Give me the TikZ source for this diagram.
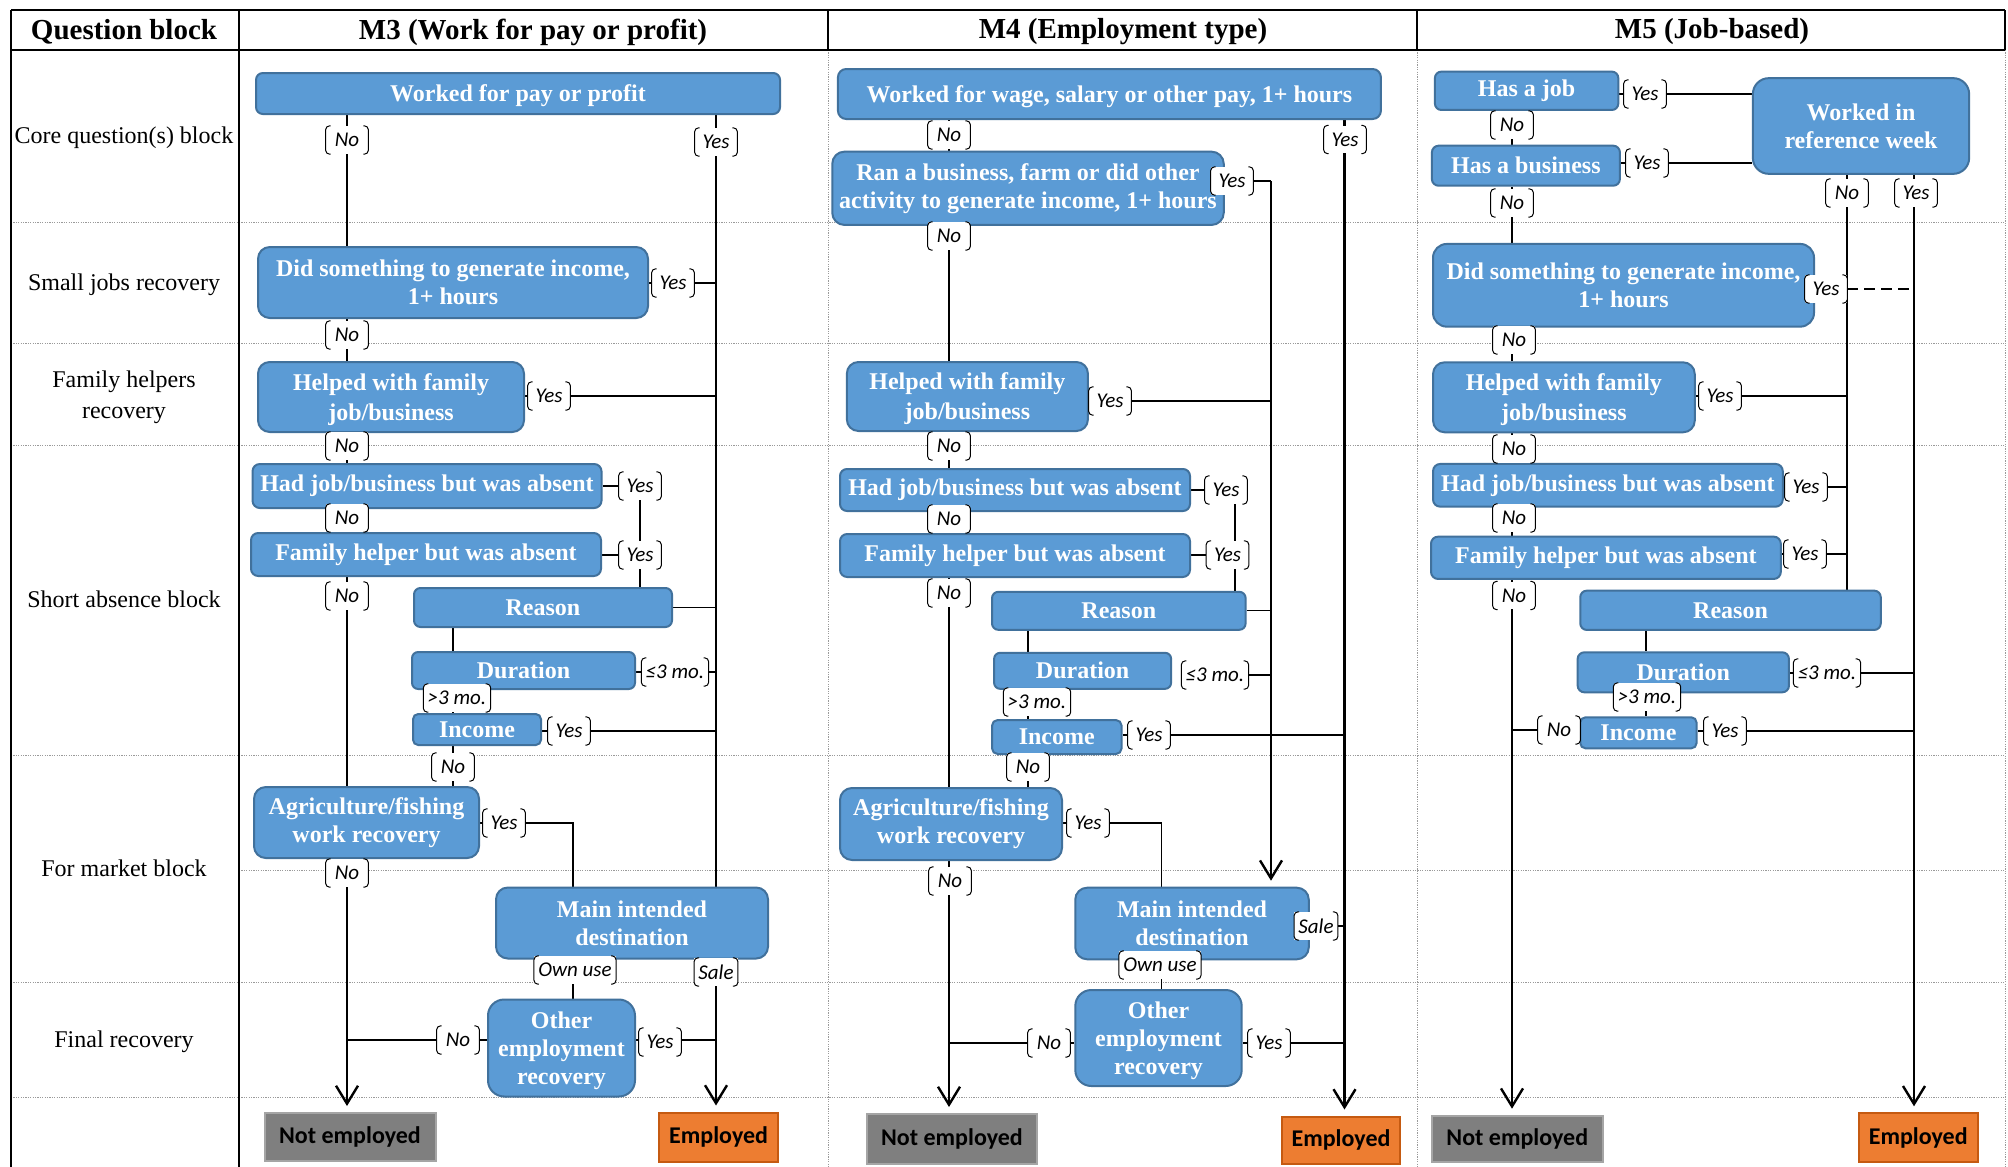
\documentclass[tikz,border=0pt]{standalone}
\usepackage{fontspec}
\setmainfont{Liberation Serif}
\newfontfamily\calfont{Carlito}
\usetikzlibrary{arrows.meta}
\definecolor{boxfill}{HTML}{5B9BD5}
\definecolor{boxedge}{HTML}{41719C}
\definecolor{negray}{HTML}{7F7F7F}
\definecolor{needge}{HTML}{A5A5A5}
\definecolor{emfill}{HTML}{ED7D31}
\definecolor{emedge}{HTML}{C55A11}
\definecolor{gridc}{HTML}{9A9A9A}
\pgfdeclarelayer{bg}
\pgfdeclarelayer{grid}
\pgfdeclarelayer{lines}
\pgfsetlayers{bg,grid,lines,main}
\tikzset{
  qb/.style={draw=boxedge, fill=boxfill, line width=1pt, text=white,
    font=\bfseries\fontsize{12}{14}\selectfont, align=center, inner sep=0pt},
  lowt/.style={text depth=0pt},
  wide/.style={font=\bfseries\fontsize{12}{15}\selectfont, text depth=0pt},
  lab/.style={fill=white, font=\calfont\itshape\fontsize{10.5}{12}\selectfont,
    inner xsep=2pt, inner ysep=0pt, minimum width=21pt, minimum height=13.8pt},
  brk/.style={line width=0.5pt, rounded corners=2pt},
  thk/.style={line width=1.2pt},
  thn/.style={line width=0.65pt},
  arr/.style={-{Straight Barb[length=9pt,width=11pt]}, shorten >=3pt},
  term/.style={font=\calfont\bfseries\fontsize{12}{14}\selectfont, text=black,
    inner sep=0pt, line width=1pt},
  rowl/.style={font=\fontsize{12}{15.5}\selectfont, align=center, inner sep=0pt},
  hdr/.style={font=\bfseries\fontsize{14.5}{16}\selectfont, inner sep=0pt},
  gridln/.style={gridc, line width=0.5pt, dash pattern=on 0.6pt off 0.6pt},
  border/.style={black, line width=1pt}
}
\newcommand\qbox[7][]{%
  \pgfmathsetmacro\qbW{#5*0.5}%
  \pgfmathsetmacro\qbH{#6*0.5}%
  \pgfmathsetmacro\qbR{min(#5,#6)/12}%
  \node[qb,minimum width=\qbW pt,minimum height=\qbH pt,rounded corners=\qbR pt,#1] (#2) at (#3,#4) {#7};}
\newcommand\yn[4][]{%
  \node[lab,#1] (#2) at (#3) {#4};
  \draw[brk] ([xshift=2.5pt]#2.north west) -- (#2.north west) -- (#2.south west) -- ([xshift=2.5pt]#2.south west);
  \draw[brk] ([xshift=-2.5pt]#2.north east) -- (#2.north east) -- (#2.south east) -- ([xshift=-2.5pt]#2.south east);}
\newcommand\tbox[7]{% name, cx, cy, w, h, style, text
  \pgfmathsetmacro\qbW{#4*0.5}%
  \pgfmathsetmacro\qbH{#5*0.5}%
  \node[term,#6,minimum width=\qbW pt,minimum height=\qbH pt] (#1) at (#2,#3) {#7};}
\begin{document}
\begin{tikzpicture}[x=0.5pt,y=-0.5pt]
\useasboundingbox (0,0) rectangle (2008,1167);
\begin{pgfonlayer}{bg}
\fill[white] (0,0) rectangle (2008,1167);
\end{pgfonlayer}

% ---------------- table grid ----------------
\begin{pgfonlayer}{grid}
\foreach \yy in {222,343,445,755,982,1097} \draw[gridln] (11,\yy) -- (2005,\yy);
\draw[gridln] (239,870) -- (2005,870);
\foreach \xx in {828,1417,2005} \draw[gridln] (\xx,50) -- (\xx,1167);
\draw[border] (11,10) -- (2005,10);
\draw[border] (11,50) -- (2005,50);
\draw[border] (11,10) -- (11,1167);
\draw[border] (239,10) -- (239,1167);
\foreach \xx in {828,1417,2005} \draw[border] (\xx,10) -- (\xx,50);
\end{pgfonlayer}

% ---------------- headers and row labels ----------------
\node[hdr] (hq) at (124,32) {Question block};
\node[hdr] (hm3) at (533,32) {M3 (Work for pay or profit)};
\node[hdr] (hm4) at (1123,32) {M4 (Employment type)};
\node[hdr] (hm5) at (1712,32) {M5 (Job-based)};
\node[rowl] (r1) at (124,138) {Core question(s) block};
\node[rowl] (r2) at (124,285) {Small jobs recovery};
\node[rowl] (r3) at (124,397) {Family helpers\\recovery};
\node[rowl] (r4) at (124,599) {Short absence block};
\node[rowl] (r5) at (124,868) {For market block};
\node[rowl] (r6) at (124,1042) {Final recovery};

% ---------------- M3 boxes ----------------
\qbox[lowt]{W3}{518}{93.5}{524}{41}{Worked for pay or profit}
\qbox{D3}{453}{282.5}{390}{71}{Did something to generate income,\\1+ hours}
\qbox[wide]{H3}{391}{397}{266}{70}{Helped with family\\job/business}
\qbox{HJ3}{427}{486}{349}{44}{Had job/business but was absent}
\qbox{FH3}{426}{554.5}{350}{43}{Family helper but was absent}
\qbox{R3}{543}{607.5}{258}{39}{Reason}
\qbox{DU3}{523.5}{670.5}{223}{37}{Duration}
\qbox{IN3}{477}{729.5}{128}{31}{Income}
\qbox{AG3}{366.5}{822.5}{225}{71}{Agriculture/fishing\\work recovery}
\qbox{MI3}{632}{923}{272}{71}{Main intended\\destination}
\qbox[lowt]{OE3}{561.5}{1048}{147}{97}{Other\\employment\\recovery}
\tbox{NE3}{350}{1137}{171}{48}{fill=negray,draw=needge}{Not employed}
\tbox{EM3}{718.6}{1137}{119}{49}{fill=emfill,draw=emedge}{Employed}

% ---------------- M4 boxes ----------------
\qbox[lowt]{W4}{1109.4}{94}{543}{50}{Worked for wage, salary or other pay, 1+ hours}
\qbox{RB4}{1028}{188.3}{391.5}{73.3}{Ran a business, farm or did other\\activity to generate income, 1+ hours}
\qbox[wide]{H4}{967.4}{396.5}{241}{69}{Helped with family\\job/business}
\qbox{HJ4}{1015}{490}{350}{42}{Had job/business but was absent}
\qbox{FH4}{1015}{555.5}{350}{43}{Family helper but was absent}
\qbox{R4}{1118.8}{610.8}{253.6}{38}{Reason}
\qbox{DU4}{1082.6}{670.8}{177}{36}{Duration}
\qbox{IN4}{1056.8}{737}{129.6}{34}{Income}
\qbox{AG4}{951}{824}{222}{72}{Agriculture/fishing\\work recovery}
\qbox{MI4}{1192}{923.5}{233.5}{71.6}{Main intended\\destination}
\qbox[lowt]{OE4}{1158.5}{1038}{166.4}{96}{Other\\employment\\recovery}
\tbox{NE4}{952}{1139}{170}{50}{fill=negray,draw=needge}{Not employed}
\tbox{EM4}{1341}{1140}{118}{47}{fill=emfill,draw=emedge}{Employed}

% ---------------- M5 boxes ----------------
\qbox{HJ5}{1526.6}{90.8}{183.4}{38.3}{Has a job}
\qbox{HB5}{1525.9}{165.7}{188}{40}{Has a business}
\qbox{WR5}{1861}{126}{216.3}{95.7}{Worked in\\reference week}
\qbox{DS5}{1623.5}{285.3}{381}{82.7}{Did something to generate income,\\1+ hours}
\qbox[wide]{H5}{1563.9}{397.3}{261.7}{70}{Helped with family\\job/business}
\qbox{HJB5}{1607.9}{485.3}{349.7}{42.7}{Had job/business but was absent}
\qbox{FH5}{1605.9}{557.8}{349.8}{42.3}{Family helper but was absent}
\qbox{R5}{1730.5}{610.3}{300.5}{39.3}{Reason}
\qbox{DU5}{1683.3}{672.3}{211.3}{40}{Duration}
\qbox{IN5}{1638.4}{732.8}{116.3}{31}{Income}
\tbox{NE5}{1517.3}{1139}{171}{46.6}{fill=negray,draw=needge}{Not employed}
\tbox{EM5}{1918.2}{1137.5}{119}{48.4}{fill=emfill,draw=emedge}{Employed}

% ---------------- M3 labels ----------------
\yn{n31}{347,140}{No}
\yn{y31}{716,142}{Yes}
\yn{y32}{673,283}{Yes}
\yn{n32}{347,335}{No}
\yn{y33}{549,396}{Yes}
\yn{n33}{347,446}{No}
\yn{y34}{640,486}{Yes}
\yn{n34}{347,518}{No}
\yn{y35}{640,555}{Yes}
\yn{n35}{347,596}{No}
\yn{l31}{675,672}{≤3 mo.}
\yn{g31}{457,698}{>3 mo.}
\yn{y36}{569,731}{Yes}
\yn{n36}{453,767}{No}
\yn{y37}{504,823}{Yes}
\yn{n37}{347,873}{No}
\yn{o31}{575,970}{Own use}
\yn{s31}{716,972}{Sale}
\yn{n38}{458,1040}{No}
\yn{y38}{660,1042}{Yes}

% ---------------- M4 labels ----------------
\yn{n41}{949,135}{No}
\yn{y41}{1345,139.5}{Yes}
\yn{y42}{1232,181}{Yes}
\yn{n42}{949,236}{No}
\yn{y43}{1110,401}{Yes}
\yn{n43}{949,446}{No}
\yn{y44}{1226,490}{Yes}
\yn{n44}{949,519}{No}
\yn{y45}{1227.5,555}{Yes}
\yn{n45}{949,593}{No}
\yn{l41}{1215,675}{≤3 mo.}
\yn{g41}{1037,702}{>3 mo.}
\yn{y46}{1149,735}{Yes}
\yn{n46}{1028,767}{No}
\yn{y47}{1088,823}{Yes}
\yn{n47}{950,881}{No}
\yn{s41}{1316,926}{Sale}
\yn{o41}{1160,965}{Own use}
\yn{n48}{1049,1043}{No}
\yn{y48}{1269,1043}{Yes}

% ---------------- M5 labels ----------------
\yn{y51}{1645,94}{Yes}
\yn{y52}{1647,163}{Yes}
\yn{n51}{1512,125}{No}
\yn{n52}{1512,203}{No}
\yn{n53}{1847,193}{No}
\yn{y53}{1916,193}{Yes}
\yn{y54}{1826,289}{Yes}
\yn{n54}{1514,340}{No}
\yn{y55}{1720,396}{Yes}
\yn{n55}{1514,449}{No}
\yn{y56}{1806,487}{Yes}
\yn{n56}{1514,518}{No}
\yn{y57}{1805,554}{Yes}
\yn{n57}{1514,595.5}{No}
\yn{l51}{1827,673}{≤3 mo.}
\yn{g51}{1647,697}{>3 mo.}
\yn{n58}{1559,730}{No}
\yn{y58}{1725,731}{Yes}

% ---------------- connectors ----------------
\begin{pgfonlayer}{lines}
% M3
\coordinate (x3n) at (347,0); \coordinate (x3y) at (716,0);
\coordinate (x3a) at (573,0); \coordinate (x3r) at (453,0);
\draw[thk] (W3.south -| x3n) -- (D3.north -| x3n);
\draw[thk] (D3.south -| x3n) -- (H3.north -| x3n);
\draw[thk] (H3.south -| x3n) -- (HJ3.north -| x3n);
\draw[thk] (HJ3.south -| x3n) -- (FH3.north -| x3n);
\draw[thk] (FH3.south -| x3n) -- (AG3.north -| x3n);
\draw[thk,arr] (AG3.south -| x3n) -- (NE3.north -| x3n);
\draw[thk,arr] (W3.south -| x3y) -- (EM3.north -| x3y);
\draw[thn] (D3.east |- y32) -- (y32 -| x3y);
\draw[thn] (H3.east |- y33) -- (y33 -| x3y);
\draw[thn] (HJ3.east |- y34) -- (y34);
\draw[thn] (y34) -- (R3.north -| y34);
\draw[thn] (FH3.east |- y35) -- (y35);
\draw[thn] (R3.east) -- (R3.east -| x3y);
\draw[thn] (R3.south -| x3r) -- (DU3.north -| x3r);
\draw[thn] (DU3.east |- l31) -- (l31 -| x3y);
\draw[thn] (DU3.south -| x3r) -- (IN3.north -| x3r);
\draw[thn] (IN3.east |- y36) -- (y36 -| x3y);
\draw[thn] (IN3.south -| x3r) -- (AG3.north -| x3r);
\draw[thn] (AG3.east |- y37) -- (y37 -| x3a) -- (MI3.north -| x3a);
\draw[thn] (MI3.south -| x3a) -- (OE3.north -| x3a);
\draw[thn] (OE3.west |- n38) -- (n38 -| x3n);
\draw[thn] (OE3.east |- n38) -- (n38 -| x3y);
% M4
\coordinate (x4n) at (949,0); \coordinate (x4y) at (1344.5,0);
\coordinate (x4r) at (1271,0); \coordinate (x4a) at (1161.4,0);
\coordinate (x4s) at (1028,0); \coordinate (x4h) at (1235,0);
\draw[thk] (W4.south -| x4n) -- (RB4.north -| x4n);
\draw[thk,arr] (W4.south -| x4y) -- (EM4.north -| x4y);
\draw[thn] (y42) -- (y42 -| x4r);
\draw[thk,arr] (y42 -| x4r) -- (MI4.north -| x4r);
\draw[thk] (RB4.south -| x4n) -- (H4.north -| x4n);
\draw[thn] (H4.east |- y43) -- (y43 -| x4r);
\draw[thk] (H4.south -| x4n) -- (HJ4.north -| x4n);
\draw[thn] (HJ4.east |- y44) -- (y44);
\draw[thn] (y44 -| x4h) -- (R4.north -| x4h);
\draw[thn] (FH4.east |- y45) -- (y45);
\draw[thk] (HJ4.south -| x4n) -- (FH4.north -| x4n);
\draw[thk] (FH4.south -| x4n) -- (AG4.north -| x4n);
\draw[thn] (R4.east) -- (R4.east -| x4r);
\draw[thn] (R4.south -| x4s) -- (DU4.north -| x4s);
\draw[thn] (l41) -- (l41 -| x4r);
\draw[thn] (DU4.south -| x4s) -- (IN4.north -| x4s);
\draw[thn] (IN4.east |- y46) -- (y46 -| x4y);
\draw[thn] (IN4.south -| x4s) -- (AG4.north -| x4s);
\draw[thn] (AG4.east |- y47) -- (y47 -| x4a) -- (MI4.north -| x4a);
\draw[thk,arr] (AG4.south -| x4n) -- (NE4.north -| x4n);
\draw[thn] (s41) -- (s41 -| x4y);
\draw[thn] (MI4.south -| x4a) -- (OE4.north -| x4a);
\draw[thn] (OE4.west |- n48) -- (n48 -| x4n);
\draw[thn] (OE4.east |- y48) -- (y48 -| x4y);
% M5
\coordinate (x5n) at (1512,0); \coordinate (x5w) at (1847,0);
\coordinate (x5y) at (1914,0); \coordinate (x5s) at (1646,0);
\draw[thn] (HJ5.east |- y51) -- (WR5.west |- y51);
\draw[thn] (HB5.east |- y52) -- (WR5.west |- y52);
\draw[thk] (HJ5.south -| x5n) -- (HB5.north -| x5n);
\draw[thk] (HB5.south -| x5n) -- (DS5.north -| x5n);
\draw[thn] (WR5.south -| x5w) -- (R5.north -| x5w);
\draw[thk,arr] (WR5.south -| x5y) -- (EM5.north -| x5y);
\draw[thn,dash pattern=on 5.5pt off 3pt] (y54) -- (y54 -| x5y);
\draw[thk] (DS5.south -| x5n) -- (H5.north -| x5n);
\draw[thn] (H5.east |- y55) -- (y55 -| x5w);
\draw[thk] (H5.south -| x5n) -- (HJB5.north -| x5n);
\draw[thn] (HJB5.east |- y56) -- (y56 -| x5w);
\draw[thk] (HJB5.south -| x5n) -- (FH5.north -| x5n);
\draw[thn] (FH5.east |- y57) -- (y57 -| x5w);
\draw[thk,arr] (FH5.south -| x5n) -- (NE5.north -| x5n);
\draw[thn] (R5.south -| x5s) -- (DU5.north -| x5s);
\draw[thn] (DU5.east |- l51) -- (l51 -| x5y);
\draw[thn] (DU5.south -| x5s) -- (IN5.north -| x5s);
\draw[thn] (IN5.west |- n58) -- (n58 -| x5n);
\draw[thn] (IN5.east |- y58) -- (y58 -| x5y);
\end{pgfonlayer}
\end{tikzpicture}
\end{document}
